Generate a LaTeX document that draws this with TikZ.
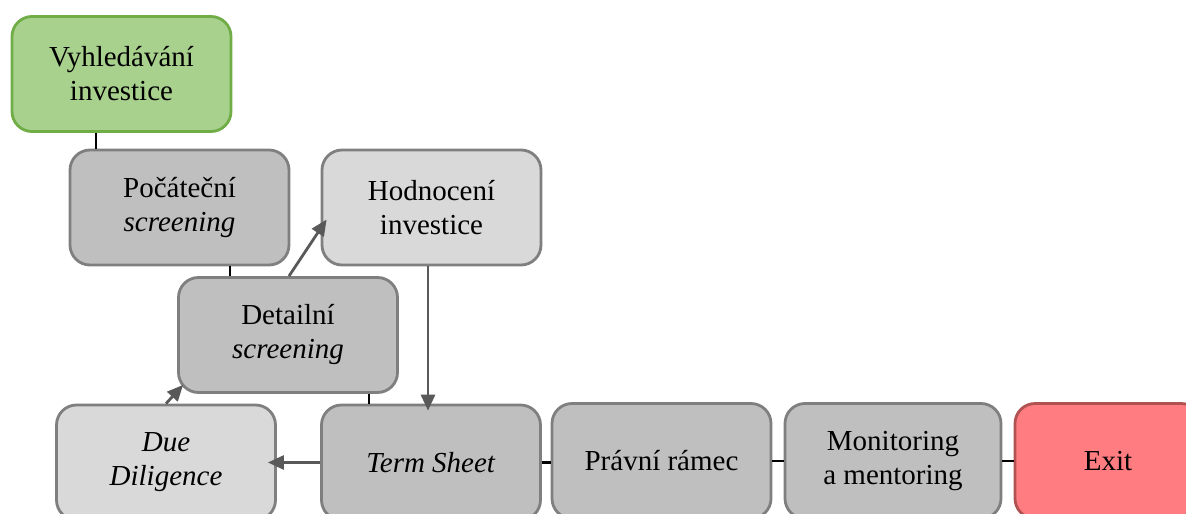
\documentclass[tikz,border=0pt]{standalone}
\usepackage{fontspec}
\setmainfont{Liberation Serif}
\usetikzlibrary{arrows.meta,calc}
\definecolor{grfill}{HTML}{A9D18E}
\definecolor{grline}{HTML}{70AD47}
\definecolor{dkfill}{HTML}{BFBFBF}
\definecolor{ltfill}{HTML}{D9D9D9}
\definecolor{boxline}{HTML}{7F7F7F}
\definecolor{exfill}{HTML}{FF7C80}
\definecolor{exline}{HTML}{B05252}
\definecolor{arr}{HTML}{595959}
\tikzset{
  box/.style={draw=boxline, line width=2.8pt, rounded corners=20pt, minimum width=219pt, minimum height=115pt,
    align=center, inner sep=0pt, font=\fontsize{29}{34}\selectfont},
  dk/.style={box, fill=dkfill},
  lt/.style={box, fill=ltfill},
  link/.style={draw=black, line width=2.6pt},
  flow/.style={draw=arr, line width=2.8pt, -{Triangle[length=16pt,width=14pt]}}
}
\begin{document}
\begin{tikzpicture}[x=1pt,y=-1pt]
\useasboundingbox (0,0) rectangle (1186,514);
\clip (0,0) rectangle (1186,514);
% nodes
\node[box, fill=grfill, draw=grline] (V) at (121.5,74) {Vyhledávání\\investice};
\node[dk] (P) at (179.5,207.5) {Počáteční\\\textit{screening}};
\node[lt] (H) at (431.5,207.5) {Hodnocení\\investice};
\node[dk] (D) at (288,335) {Detailní\\\textit{screening}};
\node[lt] (DD) at (166,462.5) {\textit{Due}\\\textit{Diligence}};
\node[dk] (TS) at (431,462.5) {\textit{Term Sheet}};
\node[dk] (PR) at (661.5,461) {Právní rámec};
\node[dk, minimum width=216pt] (M) at (893,461) {Monitoring\\a mentoring};
\node[box, fill=exfill, draw=exline, minimum width=186pt] (E) at (1108,461) {Exit};
% coordinates for connector columns
\coordinate (c1) at (96,0);
\coordinate (c2) at (230,0);
\coordinate (c3) at (369,0);
\coordinate (c4) at (428,0);
% black links
\draw[link] (V.south -| c1) -- (P.north -| c1);
\draw[link] (P.south -| c2) -- (D.north -| c2);
\draw[link] (D.south -| c3) -- (TS.north -| c3);
\draw[link] (TS.east) -- (PR.west |- TS.east);
\draw[link] (PR.east) -- (M.west);
\draw[link] (M.east) -- (E.west);
% arrows
\coordinate (tH) at ($(H.west)+(6,12)$);
\coordinate (tTS) at ($(TS.north -| c4)+(0,7)$);
\coordinate (tDD) at ($(DD.east)+(-9,0)$);
\coordinate (tD) at ($(D.south west)+(6,-9)$);
\draw[flow] ($(D.north)+(1,0)$) -- (tH);
\draw[flow] (H.south -| c4) -- (tTS);
\draw[flow] (TS.west) -- (tDD);
\draw[flow] (DD.north) -- (tD);
\end{tikzpicture}
\end{document}
